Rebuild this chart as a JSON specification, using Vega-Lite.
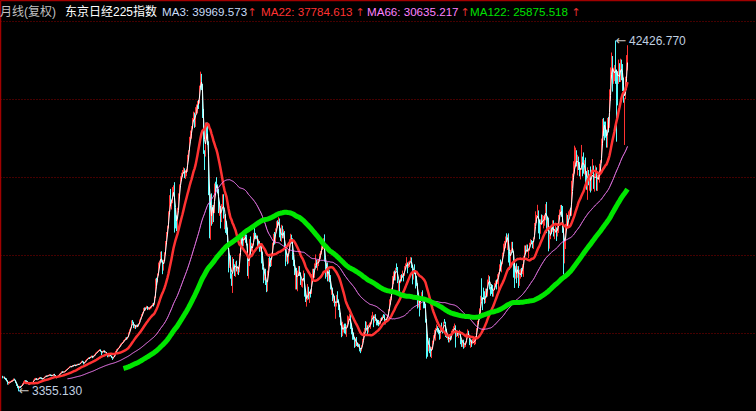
{
"$schema":"https://vega.github.io/schema/vega-lite/v6.json",
"width":756,"height":411,
"autosize":{"type":"fit","contains":"padding"},
"padding":0,
"background":"#000000",
"config":{"view":{"stroke":null},"axis":{"labels":false,"ticks":false,"title":null}},
"data":{"format":{"parse":{"t":"utc:'%Y-%m'"}},"values":[
{"t":"1973-06","o":4990,"h":5080,"l":4800,"c":4900},{"t":"1973-07","o":4900,"h":5020,"l":4820,"c":4960},{"t":"1973-08","o":4960,"h":5000,"l":4720,"c":4760},{"t":"1973-09","o":4760,"h":4850,"l":4600,"c":4700},{"t":"1973-10","o":4700,"h":4800,"l":4450,"c":4500},{"t":"1973-11","o":4500,"h":4550,"l":4100,"c":4200},{"t":"1973-12","o":4200,"h":4400,"l":4080,"c":4307},
{"t":"1974-01","o":4307,"h":4480,"l":4250,"c":4350},{"t":"1974-02","o":4350,"h":4500,"l":4300,"c":4450},{"t":"1974-03","o":4450,"h":4600,"l":4380,"c":4500},{"t":"1974-04","o":4500,"h":4650,"l":4420,"c":4580},{"t":"1974-05","o":4580,"h":4790,"l":4520,"c":4700},{"t":"1974-06","o":4700,"h":4770,"l":4550,"c":4600},{"t":"1974-07","o":4600,"h":4650,"l":4250,"c":4300},{"t":"1974-08","o":4300,"h":4350,"l":3950,"c":4000},{"t":"1974-09","o":4000,"h":4100,"l":3700,"c":3800},{"t":"1974-10","o":3800,"h":3900,"l":3355.13,"c":3700},{"t":"1974-11","o":3700,"h":3950,"l":3650,"c":3900},{"t":"1974-12","o":3900,"h":3950,"l":3750,"c":3817},
{"t":"1975-01","o":3817,"h":4050,"l":3800,"c":4000},{"t":"1975-02","o":4000,"h":4250,"l":3980,"c":4200},{"t":"1975-03","o":4200,"h":4450,"l":4150,"c":4400},{"t":"1975-04","o":4400,"h":4600,"l":4350,"c":4500},{"t":"1975-05","o":4500,"h":4600,"l":4400,"c":4480},{"t":"1975-06","o":4480,"h":4560,"l":4380,"c":4450},{"t":"1975-07","o":4450,"h":4500,"l":4250,"c":4300},{"t":"1975-08","o":4300,"h":4350,"l":4100,"c":4150},{"t":"1975-09","o":4150,"h":4250,"l":4050,"c":4180},{"t":"1975-10","o":4180,"h":4350,"l":4150,"c":4300},{"t":"1975-11","o":4300,"h":4400,"l":4250,"c":4350},{"t":"1975-12","o":4350,"h":4420,"l":4280,"c":4358},
{"t":"1976-01","o":4358,"h":4650,"l":4350,"c":4600},{"t":"1976-02","o":4600,"h":4800,"l":4580,"c":4750},{"t":"1976-03","o":4750,"h":4850,"l":4680,"c":4780},{"t":"1976-04","o":4780,"h":4820,"l":4600,"c":4650},{"t":"1976-05","o":4650,"h":4720,"l":4580,"c":4680},{"t":"1976-06","o":4680,"h":4850,"l":4650,"c":4800},{"t":"1976-07","o":4800,"h":4950,"l":4750,"c":4880},{"t":"1976-08","o":4880,"h":4920,"l":4780,"c":4820},{"t":"1976-09","o":4820,"h":4880,"l":4700,"c":4760},{"t":"1976-10","o":4760,"h":4800,"l":4650,"c":4720},{"t":"1976-11","o":4720,"h":4880,"l":4700,"c":4850},{"t":"1976-12","o":4850,"h":5000,"l":4830,"c":4990},
{"t":"1977-01","o":4990,"h":5100,"l":4950,"c":5050},{"t":"1977-02","o":5050,"h":5120,"l":4980,"c":5020},{"t":"1977-03","o":5020,"h":5150,"l":4990,"c":5100},{"t":"1977-04","o":5100,"h":5200,"l":5050,"c":5150},{"t":"1977-05","o":5150,"h":5250,"l":5100,"c":5200},{"t":"1977-06","o":5200,"h":5230,"l":5080,"c":5120},{"t":"1977-07","o":5120,"h":5180,"l":5030,"c":5080},{"t":"1977-08","o":5080,"h":5200,"l":5060,"c":5160},{"t":"1977-09","o":5160,"h":5290,"l":5120,"c":5250},{"t":"1977-10","o":5250,"h":5300,"l":5100,"c":5150},{"t":"1977-11","o":5150,"h":5170,"l":4850,"c":4900},{"t":"1977-12","o":4900,"h":4950,"l":4800,"c":4866},
{"t":"1978-01","o":4866,"h":5080,"l":4850,"c":5050},{"t":"1978-02","o":5050,"h":5180,"l":5020,"c":5150},{"t":"1978-03","o":5150,"h":5320,"l":5120,"c":5300},{"t":"1978-04","o":5300,"h":5430,"l":5280,"c":5400},{"t":"1978-05","o":5400,"h":5580,"l":5380,"c":5550},{"t":"1978-06","o":5550,"h":5600,"l":5420,"c":5450},{"t":"1978-07","o":5450,"h":5550,"l":5430,"c":5520},{"t":"1978-08","o":5520,"h":5600,"l":5480,"c":5560},{"t":"1978-09","o":5560,"h":5730,"l":5540,"c":5700},{"t":"1978-10","o":5700,"h":5830,"l":5680,"c":5800},{"t":"1978-11","o":5800,"h":5920,"l":5750,"c":5880},{"t":"1978-12","o":5880,"h":6020,"l":5860,"c":6001},
{"t":"1979-01","o":6001,"h":6150,"l":5980,"c":6100},{"t":"1979-02","o":6100,"h":6200,"l":6050,"c":6150},{"t":"1979-03","o":6150,"h":6180,"l":6020,"c":6080},{"t":"1979-04","o":6080,"h":6270,"l":6050,"c":6250},{"t":"1979-05","o":6250,"h":6290,"l":6150,"c":6200},{"t":"1979-06","o":6200,"h":6350,"l":6180,"c":6300},{"t":"1979-07","o":6300,"h":6330,"l":6150,"c":6200},{"t":"1979-08","o":6200,"h":6340,"l":6180,"c":6310},{"t":"1979-09","o":6310,"h":6420,"l":6290,"c":6400},{"t":"1979-10","o":6400,"h":6420,"l":6280,"c":6340},{"t":"1979-11","o":6340,"h":6430,"l":6300,"c":6400},{"t":"1979-12","o":6400,"h":6590,"l":6380,"c":6569},
{"t":"1980-01","o":6569,"h":6750,"l":6550,"c":6700},{"t":"1980-02","o":6700,"h":6760,"l":6580,"c":6650},{"t":"1980-03","o":6650,"h":6680,"l":6350,"c":6400},{"t":"1980-04","o":6400,"h":6640,"l":6380,"c":6600},{"t":"1980-05","o":6600,"h":6830,"l":6580,"c":6800},{"t":"1980-06","o":6800,"h":6950,"l":6780,"c":6900},{"t":"1980-07","o":6900,"h":7050,"l":6870,"c":7000},{"t":"1980-08","o":7000,"h":7150,"l":6970,"c":7100},{"t":"1980-09","o":7100,"h":7150,"l":6950,"c":7050},{"t":"1980-10","o":7050,"h":7250,"l":7030,"c":7200},{"t":"1980-11","o":7200,"h":7350,"l":7150,"c":7300},{"t":"1980-12","o":7300,"h":7320,"l":7050,"c":7116},
{"t":"1981-01","o":7116,"h":7350,"l":7100,"c":7300},{"t":"1981-02","o":7300,"h":7480,"l":7280,"c":7450},{"t":"1981-03","o":7450,"h":7650,"l":7430,"c":7600},{"t":"1981-04","o":7600,"h":7750,"l":7580,"c":7700},{"t":"1981-05","o":7700,"h":7850,"l":7650,"c":7800},{"t":"1981-06","o":7800,"h":7950,"l":7780,"c":7900},{"t":"1981-07","o":7900,"h":8050,"l":7850,"c":8000},{"t":"1981-08","o":8000,"h":8030,"l":7750,"c":7800},{"t":"1981-09","o":7800,"h":7820,"l":7400,"c":7600},{"t":"1981-10","o":7600,"h":7850,"l":7580,"c":7800},{"t":"1981-11","o":7800,"h":7950,"l":7750,"c":7900},{"t":"1981-12","o":7900,"h":7920,"l":7650,"c":7682},
{"t":"1982-01","o":7682,"h":7780,"l":7620,"c":7700},{"t":"1982-02","o":7700,"h":7720,"l":7500,"c":7550},{"t":"1982-03","o":7550,"h":7570,"l":7150,"c":7200},{"t":"1982-04","o":7200,"h":7350,"l":7150,"c":7300},{"t":"1982-05","o":7300,"h":7450,"l":7250,"c":7400},{"t":"1982-06","o":7400,"h":7420,"l":7250,"c":7300},{"t":"1982-07","o":7300,"h":7330,"l":7050,"c":7100},{"t":"1982-08","o":7100,"h":7150,"l":6850,"c":7000},{"t":"1982-09","o":7000,"h":7250,"l":6980,"c":7200},{"t":"1982-10","o":7200,"h":7450,"l":7180,"c":7400},{"t":"1982-11","o":7400,"h":7850,"l":7380,"c":7800},{"t":"1982-12","o":7800,"h":8050,"l":7780,"c":8017},
{"t":"1983-01","o":8017,"h":8150,"l":7950,"c":8100},{"t":"1983-02","o":8100,"h":8250,"l":8050,"c":8200},{"t":"1983-03","o":8200,"h":8450,"l":8180,"c":8400},{"t":"1983-04","o":8400,"h":8650,"l":8380,"c":8600},{"t":"1983-05","o":8600,"h":8750,"l":8550,"c":8700},{"t":"1983-06","o":8700,"h":8850,"l":8650,"c":8800},{"t":"1983-07","o":8800,"h":9050,"l":8780,"c":9000},{"t":"1983-08","o":9000,"h":9150,"l":8950,"c":9100},{"t":"1983-09","o":9100,"h":9350,"l":9050,"c":9300},{"t":"1983-10","o":9300,"h":9380,"l":9100,"c":9200},{"t":"1983-11","o":9200,"h":9450,"l":9150,"c":9400},{"t":"1983-12","o":9400,"h":9920,"l":9380,"c":9894},
{"t":"1984-01","o":9894,"h":10250,"l":9850,"c":10200},{"t":"1984-02","o":10200,"h":10450,"l":10100,"c":10400},{"t":"1984-03","o":10400,"h":11250,"l":10380,"c":11200},{"t":"1984-04","o":11200,"h":11300,"l":10900,"c":11000},{"t":"1984-05","o":11000,"h":11100,"l":10400,"c":10500},{"t":"1984-06","o":10500,"h":10780,"l":10350,"c":10700},{"t":"1984-07","o":10700,"h":10750,"l":10300,"c":10500},{"t":"1984-08","o":10500,"h":10780,"l":10450,"c":10700},{"t":"1984-09","o":10700,"h":10800,"l":10500,"c":10600},{"t":"1984-10","o":10600,"h":10950,"l":10550,"c":10900},{"t":"1984-11","o":10900,"h":11350,"l":10850,"c":11300},{"t":"1984-12","o":11300,"h":11600,"l":11250,"c":11543},
{"t":"1985-01","o":11543,"h":11950,"l":11500,"c":11900},{"t":"1985-02","o":11900,"h":12150,"l":11800,"c":12100},{"t":"1985-03","o":12100,"h":12650,"l":12050,"c":12600},{"t":"1985-04","o":12600,"h":12700,"l":12300,"c":12400},{"t":"1985-05","o":12400,"h":12750,"l":12350,"c":12700},{"t":"1985-06","o":12700,"h":12880,"l":12600,"c":12800},{"t":"1985-07","o":12800,"h":12850,"l":12400,"c":12500},{"t":"1985-08","o":12500,"h":12700,"l":12450,"c":12600},{"t":"1985-09","o":12600,"h":12750,"l":12400,"c":12700},{"t":"1985-10","o":12700,"h":12850,"l":12500,"c":12800},{"t":"1985-11","o":12800,"h":12950,"l":12600,"c":12900},{"t":"1985-12","o":12900,"h":13150,"l":12800,"c":13113},
{"t":"1986-01","o":13113,"h":13200,"l":12800,"c":13000},{"t":"1986-02","o":13000,"h":13900,"l":12950,"c":13800},{"t":"1986-03","o":13800,"h":15900,"l":13750,"c":15800},{"t":"1986-04","o":15800,"h":16000,"l":15200,"c":15600},{"t":"1986-05","o":15600,"h":16500,"l":15500,"c":16300},{"t":"1986-06","o":16300,"h":17700,"l":16250,"c":17600},{"t":"1986-07","o":17600,"h":17900,"l":17300,"c":17700},{"t":"1986-08","o":17700,"h":18900,"l":17600,"c":18800},{"t":"1986-09","o":18800,"h":18950,"l":17700,"c":17800},{"t":"1986-10","o":17800,"h":17900,"l":16400,"c":16900},{"t":"1986-11","o":16900,"h":18000,"l":16800,"c":17900},{"t":"1986-12","o":17900,"h":18850,"l":17850,"c":18701},
{"t":"1987-01","o":18701,"h":20100,"l":18600,"c":20000},{"t":"1987-02","o":20000,"h":21100,"l":19800,"c":21000},{"t":"1987-03","o":21000,"h":21800,"l":20900,"c":21600},{"t":"1987-04","o":21600,"h":23400,"l":21500,"c":23300},{"t":"1987-05","o":23300,"h":25200,"l":23200,"c":24900},{"t":"1987-06","o":24900,"h":25900,"l":24000,"c":24200},{"t":"1987-07","o":24200,"h":24700,"l":23600,"c":24500},{"t":"1987-08","o":24500,"h":26100,"l":24300,"c":26000},{"t":"1987-09","o":26000,"h":26300,"l":25100,"c":26011},{"t":"1987-10","o":26011,"h":26646,"l":21037,"c":22765},{"t":"1987-11","o":22765,"h":23600,"l":21500,"c":22700},{"t":"1987-12","o":22700,"h":22950,"l":21200,"c":21564},
{"t":"1988-01","o":21564,"h":23800,"l":21300,"c":23700},{"t":"1988-02","o":23700,"h":25400,"l":23600,"c":25300},{"t":"1988-03","o":25300,"h":26400,"l":25200,"c":26300},{"t":"1988-04","o":26300,"h":27300,"l":26100,"c":27200},{"t":"1988-05","o":27200,"h":27700,"l":26800,"c":27400},{"t":"1988-06","o":27400,"h":28000,"l":27200,"c":27800},{"t":"1988-07","o":27800,"h":28300,"l":27600,"c":28100},{"t":"1988-08","o":28100,"h":28200,"l":27100,"c":27400},{"t":"1988-09","o":27400,"h":28000,"l":27000,"c":27900},{"t":"1988-10","o":27900,"h":28100,"l":27300,"c":27900},{"t":"1988-11","o":27900,"h":29700,"l":27800,"c":29600},{"t":"1988-12","o":29600,"h":30200,"l":29400,"c":30159},
{"t":"1989-01","o":30159,"h":31700,"l":30100,"c":31600},{"t":"1989-02","o":31600,"h":32400,"l":31400,"c":31900},{"t":"1989-03","o":31900,"h":32900,"l":31500,"c":32800},{"t":"1989-04","o":32800,"h":33800,"l":32600,"c":33700},{"t":"1989-05","o":33700,"h":34500,"l":33400,"c":34300},{"t":"1989-06","o":34300,"h":34400,"l":32700,"c":32900},{"t":"1989-07","o":32900,"h":35000,"l":32800,"c":34900},{"t":"1989-08","o":34900,"h":35300,"l":34500,"c":35000},{"t":"1989-09","o":35000,"h":35700,"l":34300,"c":35600},{"t":"1989-10","o":35600,"h":35800,"l":34800,"c":35500},{"t":"1989-11","o":35500,"h":37400,"l":35400,"c":37300},{"t":"1989-12","o":37300,"h":38957,"l":37200,"c":38916},
{"t":"1990-01","o":38712,"h":38712,"l":36900,"c":37189},{"t":"1990-02","o":37189,"h":37600,"l":33800,"c":34592},{"t":"1990-03","o":34592,"h":34800,"l":29800,"c":29980},{"t":"1990-04","o":29980,"h":30200,"l":28000,"c":29584},{"t":"1990-05","o":29584,"h":33300,"l":29500,"c":33131},{"t":"1990-06","o":33131,"h":33300,"l":31500,"c":31940},{"t":"1990-07","o":31940,"h":33200,"l":30800,"c":31036},{"t":"1990-08","o":31036,"h":31200,"l":25200,"c":25978},{"t":"1990-09","o":25978,"h":26100,"l":20400,"c":20984},{"t":"1990-10","o":20984,"h":25300,"l":20221,"c":25194},{"t":"1990-11","o":25194,"h":25400,"l":21800,"c":22455},{"t":"1990-12","o":22455,"h":24100,"l":22000,"c":23849},
{"t":"1991-01","o":23849,"h":24100,"l":22200,"c":23293},{"t":"1991-02","o":23293,"h":26500,"l":23200,"c":26409},{"t":"1991-03","o":26409,"h":26700,"l":25500,"c":26292},{"t":"1991-04","o":26292,"h":27200,"l":26000,"c":26111},{"t":"1991-05","o":26111,"h":26400,"l":25400,"c":25790},{"t":"1991-06","o":25790,"h":25900,"l":23200,"c":23291},{"t":"1991-07","o":23291,"h":24200,"l":22900,"c":23900},{"t":"1991-08","o":23900,"h":24000,"l":21500,"c":22336},{"t":"1991-09","o":22336,"h":24200,"l":22200,"c":23916},{"t":"1991-10","o":23916,"h":25300,"l":23800,"c":25222},{"t":"1991-11","o":25222,"h":25300,"l":22600,"c":22687},{"t":"1991-12","o":22687,"h":23000,"l":21400,"c":22984},
{"t":"1992-01","o":22984,"h":23100,"l":21000,"c":22023},{"t":"1992-02","o":22023,"h":22300,"l":20800,"c":21339},{"t":"1992-03","o":21339,"h":21600,"l":19300,"c":19346},{"t":"1992-04","o":19346,"h":19400,"l":16600,"c":17391},{"t":"1992-05","o":17391,"h":18700,"l":17100,"c":18348},{"t":"1992-06","o":18348,"h":18500,"l":15900,"c":15952},{"t":"1992-07","o":15952,"h":16500,"l":15100,"c":15910},{"t":"1992-08","o":15910,"h":18300,"l":14309,"c":17556},{"t":"1992-09","o":17556,"h":18100,"l":17000,"c":17399},{"t":"1992-10","o":17399,"h":17500,"l":16200,"c":16767},{"t":"1992-11","o":16767,"h":17800,"l":16100,"c":17684},{"t":"1992-12","o":17684,"h":17900,"l":16700,"c":16925},
{"t":"1993-01","o":16925,"h":17300,"l":16400,"c":17024},{"t":"1993-02","o":17024,"h":17200,"l":16300,"c":16953},{"t":"1993-03","o":16953,"h":18700,"l":16600,"c":18591},{"t":"1993-04","o":18591,"h":20900,"l":18500,"c":20919},{"t":"1993-05","o":20919,"h":21100,"l":20000,"c":20552},{"t":"1993-06","o":20552,"h":20800,"l":19500,"c":19590},{"t":"1993-07","o":19590,"h":20600,"l":19500,"c":20380},{"t":"1993-08","o":20380,"h":21300,"l":20200,"c":21027},{"t":"1993-09","o":21027,"h":21200,"l":19900,"c":20106},{"t":"1993-10","o":20106,"h":20800,"l":19600,"c":19703},{"t":"1993-11","o":19703,"h":19800,"l":16200,"c":16408},{"t":"1993-12","o":16408,"h":17800,"l":15900,"c":17417},
{"t":"1994-01","o":17417,"h":20300,"l":17300,"c":20229},{"t":"1994-02","o":20229,"h":20600,"l":18700,"c":19112},{"t":"1994-03","o":19112,"h":19900,"l":18900,"c":19112},{"t":"1994-04","o":19112,"h":19800,"l":18900,"c":19725},{"t":"1994-05","o":19725,"h":21000,"l":19600,"c":20974},{"t":"1994-06","o":20974,"h":21600,"l":20400,"c":20644},{"t":"1994-07","o":20644,"h":21000,"l":20300,"c":20449},{"t":"1994-08","o":20449,"h":20800,"l":20300,"c":20629},{"t":"1994-09","o":20629,"h":20700,"l":19500,"c":19564},{"t":"1994-10","o":19564,"h":20300,"l":19500,"c":19990},{"t":"1994-11","o":19990,"h":20100,"l":18900,"c":19076},{"t":"1994-12","o":19076,"h":19800,"l":18900,"c":19723},
{"t":"1995-01","o":19723,"h":19800,"l":17600,"c":18649},{"t":"1995-02","o":18649,"h":18900,"l":16900,"c":17053},{"t":"1995-03","o":17053,"h":17100,"l":15400,"c":16140},{"t":"1995-04","o":16140,"h":17000,"l":15700,"c":16807},{"t":"1995-05","o":16807,"h":17000,"l":15200,"c":15437},{"t":"1995-06","o":15437,"h":15600,"l":14400,"c":14517},{"t":"1995-07","o":14517,"h":16800,"l":14485,"c":16678},{"t":"1995-08","o":16678,"h":18200,"l":16400,"c":18117},{"t":"1995-09","o":18117,"h":18400,"l":17300,"c":17913},{"t":"1995-10","o":17913,"h":18200,"l":17200,"c":17655},{"t":"1995-11","o":17655,"h":18800,"l":17300,"c":18744},{"t":"1995-12","o":18744,"h":19900,"l":18600,"c":19868},
{"t":"1996-01","o":19868,"h":20900,"l":19700,"c":20813},{"t":"1996-02","o":20813,"h":21100,"l":19700,"c":20125},{"t":"1996-03","o":20125,"h":21500,"l":19800,"c":21407},{"t":"1996-04","o":21407,"h":22300,"l":21300,"c":22041},{"t":"1996-05","o":22041,"h":22400,"l":21600,"c":21956},{"t":"1996-06","o":21956,"h":22750,"l":21800,"c":22531},{"t":"1996-07","o":22531,"h":22600,"l":20500,"c":20693},{"t":"1996-08","o":20693,"h":21500,"l":20100,"c":20167},{"t":"1996-09","o":20167,"h":21900,"l":20000,"c":21556},{"t":"1996-10","o":21556,"h":21800,"l":20400,"c":20466},{"t":"1996-11","o":20466,"h":21400,"l":20400,"c":21020},{"t":"1996-12","o":21020,"h":21200,"l":19300,"c":19361},
{"t":"1997-01","o":19361,"h":19500,"l":17300,"c":18330},{"t":"1997-02","o":18330,"h":18800,"l":17800,"c":18557},{"t":"1997-03","o":18557,"h":18700,"l":17500,"c":18003},{"t":"1997-04","o":18003,"h":19200,"l":17600,"c":19151},{"t":"1997-05","o":19151,"h":20300,"l":19000,"c":20068},{"t":"1997-06","o":20068,"h":20900,"l":19900,"c":20605},{"t":"1997-07","o":20605,"h":20800,"l":19800,"c":20331},{"t":"1997-08","o":20331,"h":20400,"l":18000,"c":18229},{"t":"1997-09","o":18229,"h":18500,"l":17300,"c":17888},{"t":"1997-10","o":17888,"h":18000,"l":16300,"c":16459},{"t":"1997-11","o":16459,"h":17100,"l":14700,"c":16636},{"t":"1997-12","o":16636,"h":17100,"l":14700,"c":15259},
{"t":"1998-01","o":15259,"h":16800,"l":14500,"c":16628},{"t":"1998-02","o":16628,"h":17300,"l":16200,"c":16832},{"t":"1998-03","o":16832,"h":17300,"l":16200,"c":16527},{"t":"1998-04","o":16527,"h":16600,"l":15200,"c":15641},{"t":"1998-05","o":15641,"h":15900,"l":15000,"c":15671},{"t":"1998-06","o":15671,"h":15900,"l":14900,"c":15830},{"t":"1998-07","o":15830,"h":16800,"l":15700,"c":16379},{"t":"1998-08","o":16379,"h":16500,"l":13900,"c":14108},{"t":"1998-09","o":14108,"h":14600,"l":13300,"c":13406},{"t":"1998-10","o":13406,"h":14100,"l":12787,"c":13564},{"t":"1998-11","o":13564,"h":15300,"l":13500,"c":14883},{"t":"1998-12","o":14883,"h":15000,"l":13600,"c":13842},
{"t":"1999-01","o":13842,"h":14500,"l":13200,"c":14499},{"t":"1999-02","o":14499,"h":14700,"l":13800,"c":14367},{"t":"1999-03","o":14367,"h":16400,"l":14200,"c":15837},{"t":"1999-04","o":15837,"h":17000,"l":15700,"c":16701},{"t":"1999-05","o":16701,"h":17000,"l":15900,"c":16112},{"t":"1999-06","o":16112,"h":17600,"l":16000,"c":17530},{"t":"1999-07","o":17530,"h":18600,"l":17400,"c":17862},{"t":"1999-08","o":17862,"h":18000,"l":17100,"c":17437},{"t":"1999-09","o":17437,"h":18000,"l":16800,"c":17605},{"t":"1999-10","o":17605,"h":18100,"l":17300,"c":17942},{"t":"1999-11","o":17942,"h":18700,"l":17800,"c":18558},{"t":"1999-12","o":18558,"h":19000,"l":18100,"c":18934},
{"t":"2000-01","o":18934,"h":19600,"l":18600,"c":19540},{"t":"2000-02","o":19540,"h":20100,"l":19100,"c":19959},{"t":"2000-03","o":19959,"h":20400,"l":19200,"c":20337},{"t":"2000-04","o":20337,"h":20833,"l":17800,"c":17974},{"t":"2000-05","o":17974,"h":18000,"l":15900,"c":16332},{"t":"2000-06","o":16332,"h":17600,"l":16100,"c":17411},{"t":"2000-07","o":17411,"h":17700,"l":15600,"c":15727},{"t":"2000-08","o":15727,"h":17000,"l":15600,"c":16861},{"t":"2000-09","o":16861,"h":16900,"l":15500,"c":15747},{"t":"2000-10","o":15747,"h":16300,"l":14700,"c":14540},{"t":"2000-11","o":14540,"h":15100,"l":14100,"c":14649},{"t":"2000-12","o":14649,"h":14900,"l":13400,"c":13786},
{"t":"2001-01","o":13786,"h":14200,"l":13200,"c":13844},{"t":"2001-02","o":13844,"h":14000,"l":12800,"c":12884},{"t":"2001-03","o":12884,"h":13300,"l":11433,"c":12999},{"t":"2001-04","o":12999,"h":14100,"l":12800,"c":13934},{"t":"2001-05","o":13934,"h":14500,"l":13200,"c":13262},{"t":"2001-06","o":13262,"h":13600,"l":12400,"c":12969},{"t":"2001-07","o":12969,"h":13000,"l":11600,"c":11861},{"t":"2001-08","o":11861,"h":12100,"l":10700,"c":10713},{"t":"2001-09","o":10713,"h":10900,"l":9382,"c":9775},{"t":"2001-10","o":9775,"h":11100,"l":9500,"c":10366},{"t":"2001-11","o":10366,"h":10800,"l":9900,"c":10697},{"t":"2001-12","o":10697,"h":10900,"l":9800,"c":10543},
{"t":"2002-01","o":10543,"h":10900,"l":9700,"c":9998},{"t":"2002-02","o":9998,"h":10700,"l":9420,"c":10588},{"t":"2002-03","o":10588,"h":11800,"l":10500,"c":11025},{"t":"2002-04","o":11025,"h":11700,"l":10900,"c":11493},{"t":"2002-05","o":11493,"h":12000,"l":11300,"c":11764},{"t":"2002-06","o":11764,"h":11900,"l":10300,"c":10622},{"t":"2002-07","o":10622,"h":10900,"l":9700,"c":9878},{"t":"2002-08","o":9878,"h":10400,"l":9100,"c":9619},{"t":"2002-09","o":9619,"h":9900,"l":9100,"c":9383},{"t":"2002-10","o":9383,"h":9400,"l":8200,"c":8640},{"t":"2002-11","o":8640,"h":9300,"l":8300,"c":9216},{"t":"2002-12","o":9216,"h":9400,"l":8400,"c":8579},
{"t":"2003-01","o":8579,"h":8800,"l":8300,"c":8340},{"t":"2003-02","o":8340,"h":8700,"l":8250,"c":8363},{"t":"2003-03","o":8363,"h":8600,"l":7800,"c":7973},{"t":"2003-04","o":7973,"h":8200,"l":7607,"c":7831},{"t":"2003-05","o":7831,"h":8500,"l":7800,"c":8425},{"t":"2003-06","o":8425,"h":9200,"l":8400,"c":9083},{"t":"2003-07","o":9083,"h":10000,"l":9000,"c":9563},{"t":"2003-08","o":9563,"h":10400,"l":9400,"c":10344},{"t":"2003-09","o":10344,"h":11161,"l":10200,"c":10219},{"t":"2003-10","o":10219,"h":11100,"l":10100,"c":10560},{"t":"2003-11","o":10560,"h":10700,"l":9600,"c":10101},{"t":"2003-12","o":10101,"h":10800,"l":9900,"c":10677},
{"t":"2004-01","o":10677,"h":11000,"l":10500,"c":10784},{"t":"2004-02","o":10784,"h":11100,"l":10300,"c":11042},{"t":"2004-03","o":11042,"h":11800,"l":10800,"c":11715},{"t":"2004-04","o":11715,"h":12200,"l":11500,"c":11762},{"t":"2004-05","o":11762,"h":11800,"l":10500,"c":11236},{"t":"2004-06","o":11236,"h":11900,"l":11000,"c":11858},{"t":"2004-07","o":11858,"h":11950,"l":11200,"c":11326},{"t":"2004-08","o":11326,"h":11400,"l":10700,"c":11082},{"t":"2004-09","o":11082,"h":11300,"l":10700,"c":10824},{"t":"2004-10","o":10824,"h":11300,"l":10600,"c":10771},{"t":"2004-11","o":10771,"h":11200,"l":10700,"c":11069},{"t":"2004-12","o":11069,"h":11500,"l":10800,"c":11489},
{"t":"2005-01","o":11489,"h":11600,"l":11200,"c":11388},{"t":"2005-02","o":11388,"h":11800,"l":11300,"c":11741},{"t":"2005-03","o":11741,"h":11950,"l":11600,"c":11669},{"t":"2005-04","o":11669,"h":11900,"l":10800,"c":11009},{"t":"2005-05","o":11009,"h":11300,"l":10800,"c":11277},{"t":"2005-06","o":11277,"h":11600,"l":11200,"c":11584},{"t":"2005-07","o":11584,"h":11900,"l":11500,"c":11900},{"t":"2005-08","o":11900,"h":12500,"l":11700,"c":12414},{"t":"2005-09","o":12414,"h":13600,"l":12300,"c":13574},{"t":"2005-10","o":13574,"h":13900,"l":13000,"c":13607},{"t":"2005-11","o":13607,"h":14900,"l":13500,"c":14872},{"t":"2005-12","o":14872,"h":16200,"l":14800,"c":16111},
{"t":"2006-01","o":16111,"h":16700,"l":15300,"c":16650},{"t":"2006-02","o":16650,"h":16800,"l":15700,"c":16205},{"t":"2006-03","o":16205,"h":17100,"l":15700,"c":17060},{"t":"2006-04","o":17060,"h":17600,"l":16800,"c":16906},{"t":"2006-05","o":16906,"h":17200,"l":15400,"c":15467},{"t":"2006-06","o":15467,"h":15600,"l":14045,"c":15505},{"t":"2006-07","o":15505,"h":15700,"l":14400,"c":15457},{"t":"2006-08","o":15457,"h":16300,"l":15400,"c":16141},{"t":"2006-09","o":16141,"h":16400,"l":15600,"c":16128},{"t":"2006-10","o":16128,"h":16800,"l":16000,"c":16399},{"t":"2006-11","o":16399,"h":16500,"l":15600,"c":16274},{"t":"2006-12","o":16274,"h":17300,"l":16200,"c":17226},
{"t":"2007-01","o":17226,"h":17600,"l":17000,"c":17383},{"t":"2007-02","o":17383,"h":18300,"l":17300,"c":17604},{"t":"2007-03","o":17604,"h":17700,"l":16500,"c":17288},{"t":"2007-04","o":17288,"h":17800,"l":17100,"c":17400},{"t":"2007-05","o":17400,"h":17900,"l":17200,"c":17876},{"t":"2007-06","o":17876,"h":18300,"l":17800,"c":18138},{"t":"2007-07","o":18138,"h":18261,"l":17100,"c":17249},{"t":"2007-08","o":17249,"h":17400,"l":15273,"c":16569},{"t":"2007-09","o":16569,"h":16900,"l":15800,"c":16786},{"t":"2007-10","o":16786,"h":17500,"l":16400,"c":16738},{"t":"2007-11","o":16738,"h":16800,"l":14800,"c":15681},{"t":"2007-12","o":15681,"h":16200,"l":15100,"c":15308},
{"t":"2008-01","o":15308,"h":15400,"l":12573,"c":13592},{"t":"2008-02","o":13592,"h":14000,"l":12700,"c":13603},{"t":"2008-03","o":13603,"h":13700,"l":11691,"c":12526},{"t":"2008-04","o":12526,"h":13900,"l":12400,"c":13850},{"t":"2008-05","o":13850,"h":14400,"l":13600,"c":14339},{"t":"2008-06","o":14339,"h":14600,"l":13400,"c":13482},{"t":"2008-07","o":13482,"h":13600,"l":12600,"c":13377},{"t":"2008-08","o":13377,"h":13400,"l":12600,"c":13073},{"t":"2008-09","o":13073,"h":13100,"l":11000,"c":11260},{"t":"2008-10","o":11260,"h":11400,"l":6994,"c":8577},{"t":"2008-11","o":8577,"h":9500,"l":7200,"c":8512},{"t":"2008-12","o":8512,"h":9000,"l":7800,"c":8860},
{"t":"2009-01","o":8860,"h":9300,"l":7600,"c":7994},{"t":"2009-02","o":7994,"h":8100,"l":7200,"c":7568},{"t":"2009-03","o":7568,"h":8300,"l":7054,"c":8110},{"t":"2009-04","o":8110,"h":9000,"l":8000,"c":8828},{"t":"2009-05","o":8828,"h":9600,"l":8700,"c":9523},{"t":"2009-06","o":9523,"h":10200,"l":9400,"c":9958},{"t":"2009-07","o":9958,"h":10400,"l":9000,"c":10357},{"t":"2009-08","o":10357,"h":10800,"l":10200,"c":10493},{"t":"2009-09","o":10493,"h":10600,"l":9900,"c":10133},{"t":"2009-10","o":10133,"h":10400,"l":9700,"c":10034},{"t":"2009-11","o":10034,"h":10200,"l":9100,"c":9345},{"t":"2009-12","o":9345,"h":10600,"l":9200,"c":10546},
{"t":"2010-01","o":10546,"h":11000,"l":10100,"c":10198},{"t":"2010-02","o":10198,"h":10400,"l":9800,"c":10126},{"t":"2010-03","o":10126,"h":11100,"l":10100,"c":11090},{"t":"2010-04","o":11090,"h":11400,"l":10900,"c":11057},{"t":"2010-05","o":11057,"h":11100,"l":9400,"c":9769},{"t":"2010-06","o":9769,"h":10300,"l":9300,"c":9383},{"t":"2010-07","o":9383,"h":9800,"l":9100,"c":9537},{"t":"2010-08","o":9537,"h":9600,"l":8800,"c":8824},{"t":"2010-09","o":8824,"h":9700,"l":8800,"c":9369},{"t":"2010-10","o":9369,"h":9600,"l":9000,"c":9202},{"t":"2010-11","o":9202,"h":10100,"l":9100,"c":9937},{"t":"2010-12","o":9937,"h":10300,"l":9900,"c":10229},
{"t":"2011-01","o":10229,"h":10600,"l":10100,"c":10238},{"t":"2011-02","o":10238,"h":10900,"l":10200,"c":10624},{"t":"2011-03","o":10624,"h":10700,"l":8227,"c":9755},{"t":"2011-04","o":9755,"h":9900,"l":9400,"c":9850},{"t":"2011-05","o":9850,"h":10100,"l":9500,"c":9694},{"t":"2011-06","o":9694,"h":9900,"l":9300,"c":9816},{"t":"2011-07","o":9816,"h":10200,"l":9800,"c":9833},{"t":"2011-08","o":9833,"h":10000,"l":8600,"c":8955},{"t":"2011-09","o":8955,"h":9100,"l":8300,"c":8700},{"t":"2011-10","o":8700,"h":9100,"l":8300,"c":8988},{"t":"2011-11","o":8988,"h":9100,"l":8100,"c":8435},{"t":"2011-12","o":8435,"h":8700,"l":8200,"c":8455},
{"t":"2012-01","o":8455,"h":8900,"l":8300,"c":8803},{"t":"2012-02","o":8803,"h":9800,"l":8800,"c":9723},{"t":"2012-03","o":9723,"h":10255,"l":9700,"c":10084},{"t":"2012-04","o":10084,"h":10100,"l":9400,"c":9521},{"t":"2012-05","o":9521,"h":9600,"l":8500,"c":8543},{"t":"2012-06","o":8543,"h":9100,"l":8200,"c":9007},{"t":"2012-07","o":9007,"h":9100,"l":8300,"c":8695},{"t":"2012-08","o":8695,"h":9200,"l":8600,"c":8840},{"t":"2012-09","o":8840,"h":9300,"l":8700,"c":8870},{"t":"2012-10","o":8870,"h":9200,"l":8500,"c":8928},{"t":"2012-11","o":8928,"h":9500,"l":8600,"c":9446},{"t":"2012-12","o":9446,"h":10400,"l":9400,"c":10395},
{"t":"2013-01","o":10395,"h":11200,"l":10300,"c":11139},{"t":"2013-02","o":11139,"h":11600,"l":10900,"c":11559},{"t":"2013-03","o":11559,"h":12600,"l":11300,"c":12398},{"t":"2013-04","o":12398,"h":14000,"l":12000,"c":13861},{"t":"2013-05","o":13861,"h":15943,"l":13500,"c":13775},{"t":"2013-06","o":13775,"h":13800,"l":12400,"c":13677},{"t":"2013-07","o":13677,"h":14900,"l":13600,"c":13668},{"t":"2013-08","o":13668,"h":14500,"l":13100,"c":13389},{"t":"2013-09","o":13389,"h":14800,"l":13200,"c":14456},{"t":"2013-10","o":14456,"h":14800,"l":13800,"c":14328},{"t":"2013-11","o":14328,"h":15800,"l":13900,"c":15662},{"t":"2013-12","o":15662,"h":16300,"l":15400,"c":16291},
{"t":"2014-01","o":16150,"h":16164,"l":14700,"c":14915},{"t":"2014-02","o":14915,"h":15000,"l":13995,"c":14841},{"t":"2014-03","o":14841,"h":15300,"l":14200,"c":14828},{"t":"2014-04","o":14828,"h":15200,"l":13900,"c":14304},{"t":"2014-05","o":14304,"h":14800,"l":13900,"c":14632},{"t":"2014-06","o":14632,"h":15400,"l":14600,"c":15162},{"t":"2014-07","o":15162,"h":15700,"l":15000,"c":15621},{"t":"2014-08","o":15621,"h":15800,"l":14700,"c":15425},{"t":"2014-09","o":15425,"h":16400,"l":15300,"c":16174},{"t":"2014-10","o":16174,"h":16600,"l":14529,"c":16414},{"t":"2014-11","o":16414,"h":17500,"l":16400,"c":17460},{"t":"2014-12","o":17460,"h":18030,"l":16700,"c":17451},
{"t":"2015-01","o":17451,"h":17800,"l":16600,"c":17674},{"t":"2015-02","o":17674,"h":18800,"l":17500,"c":18798},{"t":"2015-03","o":18798,"h":19800,"l":18600,"c":19207},{"t":"2015-04","o":19207,"h":20100,"l":19000,"c":19520},{"t":"2015-05","o":19520,"h":20600,"l":19300,"c":20563},{"t":"2015-06","o":20563,"h":20952,"l":20000,"c":20236},{"t":"2015-07","o":20236,"h":20800,"l":19100,"c":20585},{"t":"2015-08","o":20585,"h":20946,"l":17700,"c":18890},{"t":"2015-09","o":18890,"h":18900,"l":16900,"c":17388},{"t":"2015-10","o":17388,"h":19100,"l":17100,"c":19083},{"t":"2015-11","o":19083,"h":20000,"l":19000,"c":19747},{"t":"2015-12","o":19747,"h":20000,"l":18800,"c":19034},
{"t":"2016-01","o":18818,"h":18951,"l":16017,"c":17518},{"t":"2016-02","o":17518,"h":17900,"l":14865,"c":16027},{"t":"2016-03","o":16027,"h":17300,"l":15900,"c":16759},{"t":"2016-04","o":16759,"h":17600,"l":15400,"c":16666},{"t":"2016-05","o":16666,"h":17300,"l":16000,"c":17235},{"t":"2016-06","o":17235,"h":17300,"l":14864,"c":15576},{"t":"2016-07","o":15576,"h":16900,"l":15100,"c":16569},{"t":"2016-08","o":16569,"h":17000,"l":15900,"c":16887},{"t":"2016-09","o":16887,"h":17100,"l":16100,"c":16450},{"t":"2016-10","o":16450,"h":17500,"l":16400,"c":17425},{"t":"2016-11","o":17425,"h":18400,"l":16100,"c":18308},{"t":"2016-12","o":18308,"h":19600,"l":18200,"c":19114},
{"t":"2017-01","o":19114,"h":19600,"l":18600,"c":19041},{"t":"2017-02","o":19041,"h":19700,"l":18800,"c":19119},{"t":"2017-03","o":19119,"h":19700,"l":18900,"c":18909},{"t":"2017-04","o":18909,"h":19300,"l":18200,"c":19197},{"t":"2017-05","o":19197,"h":19900,"l":19000,"c":19651},{"t":"2017-06","o":19651,"h":20300,"l":19600,"c":20033},{"t":"2017-07","o":20033,"h":20200,"l":19800,"c":19925},{"t":"2017-08","o":19925,"h":20100,"l":19300,"c":19646},{"t":"2017-09","o":19646,"h":20500,"l":19200,"c":20356},{"t":"2017-10","o":20356,"h":22100,"l":20300,"c":22012},{"t":"2017-11","o":22012,"h":23400,"l":21900,"c":22725},{"t":"2017-12","o":22725,"h":23000,"l":22100,"c":22765},
{"t":"2018-01","o":22765,"h":24129,"l":22700,"c":23098},{"t":"2018-02","o":23098,"h":23500,"l":20950,"c":22068},{"t":"2018-03","o":22068,"h":22500,"l":20300,"c":21454},{"t":"2018-04","o":21454,"h":22500,"l":20900,"c":22468},{"t":"2018-05","o":22468,"h":23050,"l":21900,"c":22202},{"t":"2018-06","o":22202,"h":23000,"l":22000,"c":22305},{"t":"2018-07","o":22305,"h":22900,"l":21500,"c":22554},{"t":"2018-08","o":22554,"h":23000,"l":21800,"c":22865},{"t":"2018-09","o":22865,"h":24200,"l":22400,"c":24120},{"t":"2018-10","o":24120,"h":24448,"l":20971,"c":21920},{"t":"2018-11","o":21920,"h":22700,"l":21200,"c":22351},{"t":"2018-12","o":22351,"h":22700,"l":18948,"c":20015},
{"t":"2019-01","o":20015,"h":20800,"l":19241,"c":20773},{"t":"2019-02","o":20773,"h":21500,"l":20300,"c":21385},{"t":"2019-03","o":21385,"h":21900,"l":20900,"c":21206},{"t":"2019-04","o":21206,"h":22400,"l":21100,"c":22259},{"t":"2019-05","o":22259,"h":22400,"l":20600,"c":20601},{"t":"2019-06","o":20601,"h":21400,"l":20300,"c":21276},{"t":"2019-07","o":21276,"h":21800,"l":21000,"c":21522},{"t":"2019-08","o":21522,"h":21600,"l":20100,"c":20704},{"t":"2019-09","o":20704,"h":22100,"l":20600,"c":21756},{"t":"2019-10","o":21756,"h":23000,"l":21000,"c":22927},{"t":"2019-11","o":22927,"h":23600,"l":22800,"c":23294},{"t":"2019-12","o":23294,"h":24100,"l":23000,"c":23657},
{"t":"2020-01","o":23657,"h":24116,"l":22800,"c":23205},{"t":"2020-02","o":23205,"h":23995,"l":21000,"c":21143},{"t":"2020-03","o":21143,"h":21500,"l":16358,"c":18917},{"t":"2020-04","o":18917,"h":20400,"l":17600,"c":20194},{"t":"2020-05","o":20194,"h":22000,"l":19200,"c":21878},{"t":"2020-06","o":21878,"h":23178,"l":21500,"c":22288},{"t":"2020-07","o":22288,"h":23000,"l":21700,"c":21710},{"t":"2020-08","o":21710,"h":23400,"l":21700,"c":23140},{"t":"2020-09","o":23140,"h":23600,"l":22900,"c":23185},{"t":"2020-10","o":23185,"h":23800,"l":22900,"c":22977},{"t":"2020-11","o":22977,"h":26800,"l":22900,"c":26434},{"t":"2020-12","o":26434,"h":27600,"l":26000,"c":27444},
{"t":"2021-01","o":27444,"h":28979,"l":27000,"c":27663},{"t":"2021-02","o":27663,"h":30714,"l":27600,"c":28966},{"t":"2021-03","o":28966,"h":30500,"l":28300,"c":29179},{"t":"2021-04","o":29179,"h":30200,"l":28400,"c":28813},{"t":"2021-05","o":28813,"h":29700,"l":27400,"c":28860},{"t":"2021-06","o":28860,"h":29500,"l":28000,"c":28792},{"t":"2021-07","o":28792,"h":28900,"l":27300,"c":27284},{"t":"2021-08","o":27284,"h":28200,"l":26954,"c":28090},{"t":"2021-09","o":28090,"h":30795,"l":28000,"c":29453},{"t":"2021-10","o":29453,"h":29500,"l":27300,"c":28893},{"t":"2021-11","o":28893,"h":29960,"l":27600,"c":27822},{"t":"2021-12","o":27822,"h":29100,"l":27500,"c":28792},
{"t":"2022-01","o":28792,"h":29388,"l":26044,"c":27002},{"t":"2022-02","o":27002,"h":27900,"l":25800,"c":26527},{"t":"2022-03","o":26527,"h":28300,"l":24681,"c":27821},{"t":"2022-04","o":27821,"h":28000,"l":26300,"c":26848},{"t":"2022-05","o":26848,"h":27500,"l":25700,"c":27280},{"t":"2022-06","o":27280,"h":28400,"l":25500,"c":26393},{"t":"2022-07","o":26393,"h":28000,"l":25700,"c":27802},{"t":"2022-08","o":27802,"h":29222,"l":27600,"c":28092},{"t":"2022-09","o":28092,"h":28500,"l":25900,"c":25937},{"t":"2022-10","o":25937,"h":27600,"l":25600,"c":27587},{"t":"2022-11","o":27587,"h":28500,"l":27200,"c":27969},{"t":"2022-12","o":27969,"h":28300,"l":25700,"c":26095},
{"t":"2023-01","o":26095,"h":27500,"l":25661,"c":27327},{"t":"2023-02","o":27327,"h":27800,"l":27000,"c":27446},{"t":"2023-03","o":27446,"h":28700,"l":26600,"c":28041},{"t":"2023-04","o":28041,"h":29100,"l":27400,"c":28856},{"t":"2023-05","o":28856,"h":31500,"l":28800,"c":30888},{"t":"2023-06","o":30888,"h":33700,"l":30800,"c":33189},{"t":"2023-07","o":33189,"h":33800,"l":31800,"c":33172},{"t":"2023-08","o":33172,"h":33400,"l":31300,"c":32619},{"t":"2023-09","o":32619,"h":33400,"l":31600,"c":31858},{"t":"2023-10","o":31858,"h":32500,"l":30500,"c":30859},{"t":"2023-11","o":30859,"h":33800,"l":30500,"c":33487},{"t":"2023-12","o":33487,"h":33900,"l":32200,"c":33464},
{"t":"2024-01","o":33464,"h":36984,"l":32700,"c":36287},{"t":"2024-02","o":36287,"h":39426,"l":35700,"c":39166},{"t":"2024-03","o":39166,"h":41088,"l":38200,"c":40369},{"t":"2024-04","o":40369,"h":40697,"l":36733,"c":38406},{"t":"2024-05","o":38406,"h":39400,"l":37600,"c":38488},{"t":"2024-06","o":38488,"h":39700,"l":37900,"c":39583},{"t":"2024-07","o":39583,"h":42426.77,"l":37600,"c":39102},{"t":"2024-08","o":39102,"h":39200,"l":31156,"c":38648},{"t":"2024-09","o":38648,"h":39000,"l":35200,"c":37920},{"t":"2024-10","o":37920,"h":40300,"l":37600,"c":39081},{"t":"2024-11","o":39081,"h":39900,"l":37800,"c":38208},{"t":"2024-12","o":38208,"h":40400,"l":37800,"c":39895},
{"t":"2025-01","o":39895,"h":40300,"l":38000,"c":39572},{"t":"2025-02","o":39572,"h":39800,"l":36800,"c":37156},{"t":"2025-03","o":37156,"h":38300,"l":35500,"c":35618},{"t":"2025-04","o":35618,"h":36000,"l":30792,"c":36045},{"t":"2025-05","o":36045,"h":38400,"l":35900,"c":37965},{"t":"2025-06","o":37965,"h":40800,"l":36900,"c":40487},{"t":"2025-07","o":40487,"h":41900,"l":39100,"c":41456}
]},
"layer":[
{"mark":{"type":"rule","strokeWidth":1,"xOffset":0.5},
 "encoding":{
  "x":{"field":"t","type":"temporal","scale":{"type":"utc","domain":[{"year":1973,"month":4,"date":1,"utc":true},{"year":2036,"month":4,"date":1,"utc":true}],"round":true},"axis":{"orient":"top","domain":true,"domainColor":"#a00000","domainWidth":1.5,"grid":false,"labels":false,"ticks":false,"title":null}},
  "y":{"field":"l","type":"quantitative","scale":{"domain":[1161,46938],"nice":false,"zero":false},"axis":{"orient":"left","domain":true,"domainColor":"#a00000","domainWidth":1.5,"labels":false,"ticks":false,"title":null,"grid":true,"gridColor":"#8a0000","gridDash":[1,2],"gridWidth":1,"values":[9848,18536,27222,35911,44599]}},
  "y2":{"field":"h"},
  "color":{"condition":{"test":"datum.c>=datum.o","value":"#ff3232"},"value":"#54fcfc"}
 }},
{"transform":[{"window":[{"op":"mean","field":"c","as":"ma"},{"op":"count","as":"n"}],"frame":[-2,0],"sort":[{"field":"t"}]},{"filter":"datum.n>=3"}],
 "mark":{"type":"line","color":"#ffffff","strokeWidth":1,"xOffset":0.5},
 "encoding":{"x":{"field":"t","type":"temporal"},"y":{"field":"ma","type":"quantitative"}}},
{"transform":[{"window":[{"op":"mean","field":"c","as":"ma"},{"op":"count","as":"n"}],"frame":[-21,0],"sort":[{"field":"t"}]},{"filter":"datum.n>=22"}],
 "mark":{"type":"line","color":"#ff3232","strokeWidth":2.5,"xOffset":0.5},
 "encoding":{"x":{"field":"t","type":"temporal"},"y":{"field":"ma","type":"quantitative"}}},
{"transform":[{"window":[{"op":"mean","field":"c","as":"ma"},{"op":"count","as":"n"}],"frame":[-65,0],"sort":[{"field":"t"}]},{"filter":"datum.n>=66"}],
 "mark":{"type":"line","color":"#ff80ff","strokeWidth":1,"xOffset":0.5},
 "encoding":{"x":{"field":"t","type":"temporal"},"y":{"field":"ma","type":"quantitative"}}},
{"transform":[{"window":[{"op":"mean","field":"c","as":"ma"},{"op":"count","as":"n"}],"frame":[-121,0],"sort":[{"field":"t"}]},{"filter":"datum.n>=122"}],
 "mark":{"type":"line","color":"#00e600","strokeWidth":5,"xOffset":0.5},
 "encoding":{"x":{"field":"t","type":"temporal"},"y":{"field":"ma","type":"quantitative"}}},
{"data":{"values":[{"t":"2024-07","v":42426.77,"s":"42426.770"},{"t":"1974-10","v":3355.13,"s":"3355.130"}],"format":{"parse":{"t":"utc:'%Y-%m'"}}},
 "layer":[
  {"mark":{"type":"text","align":"left","baseline":"middle","color":"#c8c8c8","font":"DejaVu Sans","fontSize":13,"xOffset":0.5},
   "encoding":{"x":{"field":"t","type":"temporal"},"y":{"field":"v","type":"quantitative"},"text":{"value":"←"}}},
  {"mark":{"type":"text","align":"left","baseline":"middle","color":"#c0d0e0","font":"Liberation Sans","fontSize":12,"dx":14},
   "encoding":{"x":{"field":"t","type":"temporal"},"y":{"field":"v","type":"quantitative"},"text":{"field":"s"}}}
 ]},
{"data":{"values":[
  {"p":"1973-04","s":"月线(复权)","k":"a"},
  {"p":"1978-09","s":"东京日经225指数","k":"b"}],"format":{"parse":{"p":"utc:'%Y-%m'"}}},
 "mark":{"type":"text","align":"left","baseline":"alphabetic","font":"Liberation Sans, Noto Sans CJK SC","fontSize":12},
 "encoding":{"x":{"field":"p","type":"temporal"},"y":{"datum":45156,"type":"quantitative"},"text":{"field":"s"},
   "color":{"field":"k","type":"nominal","legend":null,"scale":{"domain":["a","b","c","d","e","f"],"range":["#c0c0c0","#ffffff","#c8dcf8","#ff3232","#ff80ff","#00e000"]}}}},
{"data":{"values":[
  {"p":"1986-10","s":"MA3: 39969.573","k":"c"},
  {"p":"1995-01","s":"MA22: 37784.613","k":"d"},
  {"p":"2003-11","s":"MA66: 30635.217","k":"e"},
  {"p":"2012-06","s":"MA122: 25875.518","k":"f"}],"format":{"parse":{"p":"utc:'%Y-%m'"}}},
 "mark":{"type":"text","align":"left","baseline":"alphabetic","font":"Liberation Sans","fontSize":11.6},
 "encoding":{"x":{"field":"p","type":"temporal"},"y":{"datum":45156,"type":"quantitative"},"text":{"field":"s"},
   "color":{"field":"k","type":"nominal","legend":null}}},
{"data":{"values":[{"p":"1994-04"},{"p":"2003-04"},{"p":"2012-01"},{"p":"2021-04"}],"format":{"parse":{"p":"utc:'%Y-%m'"}}},
 "mark":{"type":"text","align":"center","baseline":"alphabetic","color":"#e03030","font":"DejaVu Sans","fontSize":11},
 "encoding":{"x":{"field":"p","type":"temporal"},"y":{"datum":45156,"type":"quantitative"},"text":{"value":"↑"}}}
]
}
